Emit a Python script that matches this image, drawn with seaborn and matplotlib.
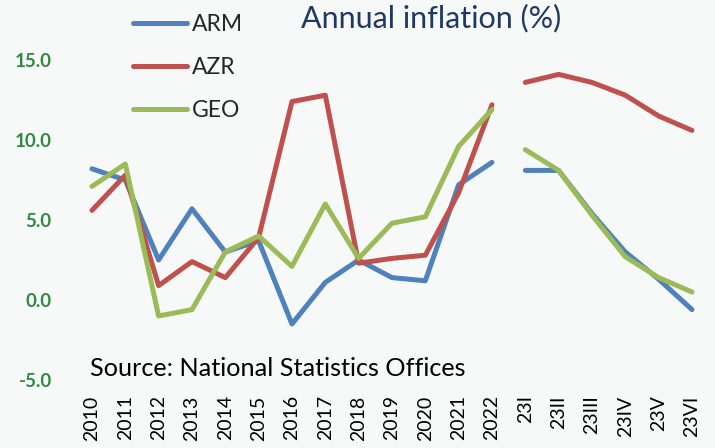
import matplotlib
matplotlib.use("Agg")
import matplotlib.pyplot as plt
import seaborn as sns
import pandas as pd

# categories: annual 2010-2022, then monthly 2023 (I..VI)
periods = ["2010", "2011", "2012", "2013", "2014", "2015", "2016", "2017",
           "2018", "2019", "2020", "2021", "2022",
           "23I", "23II", "23III", "23IV", "23V", "23VI"]
segment = ["annual"] * 13 + ["monthly"] * 6

arm = [8.2, 7.5, 2.5, 5.7, 3.0, 3.7, -1.5, 1.1, 2.5, 1.4, 1.2, 7.2, 8.6,
       8.1, 8.1, 5.4, 3.0, 1.3, -0.6]
azr = [5.6, 7.8, 0.9, 2.4, 1.4, 3.9, 12.4, 12.8, 2.3, 2.6, 2.8, 6.7, 12.2,
       13.6, 14.1, 13.6, 12.8, 11.5, 10.6]
geo = [7.1, 8.5, -1.0, -0.6, 3.0, 4.0, 2.1, 6.0, 2.6, 4.8, 5.2, 9.6, 11.9,
       9.4, 8.1, 5.3, 2.7, 1.4, 0.5]

series = {"ARM": arm, "AZR": azr, "GEO": geo}
colors = {"ARM": "#4F81BD", "AZR": "#C0504D", "GEO": "#9BBB59"}

rows = []
for name, vals in series.items():
    for i, v in enumerate(vals):
        rows.append({"pos": i, "value": v, "country": name, "seg": segment[i]})
df = pd.DataFrame(rows)

sns.set_style("white")
plt.rcParams["font.family"] = ["Lato", "DejaVu Sans"]

bg = "#F7F9F9"
fig = plt.figure(figsize=(7.15, 4.48), dpi=100, facecolor=bg)
ax = fig.add_axes([0.1053, 0.1518, 0.8858, 0.8482])
ax.set_facecolor(bg)

sns.lineplot(data=df, x="pos", y="value", hue="country", units="seg",
             estimator=None, palette=colors, linewidth=3.6, ax=ax,
             solid_capstyle="round")

ax.set_xlim(-0.5, len(periods) - 0.5)
ax.set_ylim(-5, 18.75)
ax.set_yticks([-5, 0, 5, 10, 15])
ax.set_yticklabels([f"{t:.1f}" for t in [-5, 0, 5, 10, 15]],
                   color="#2E8B3E", fontweight="bold", fontsize=13.5)
ax.set_xticks(range(len(periods)))
ax.set_xticklabels(periods, rotation=90, fontsize=14, color="black")
ax.tick_params(axis="y", length=0, pad=17)
ax.tick_params(axis="x", length=0, pad=11)
ax.set_xlabel("")
ax.set_ylabel("")
for s in ax.spines.values():
    s.set_visible(False)

leg = ax.legend(loc="upper left", bbox_to_anchor=(133 / 715, 1 - 14 / 448),
                bbox_transform=fig.transFigure, frameon=False, fontsize=16.5,
                handlelength=2.35, handletextpad=0.22, labelspacing=0.97,
                borderpad=0, borderaxespad=0)
for line in leg.get_lines():
    line.set_linewidth(3.6)
    line.set_solid_capstyle("round")

fig.text(431 / 715, 1 - 18 / 448, "Annual inflation (%)", ha="center",
         va="center", fontsize=22, color="#1F3864")
fig.text(90 / 715, 1 - 368 / 448, "Source: National Statistics Offices",
         ha="left", va="center", fontsize=18.2, color="black")

fig.savefig("out.png", dpi=100, facecolor=bg)
